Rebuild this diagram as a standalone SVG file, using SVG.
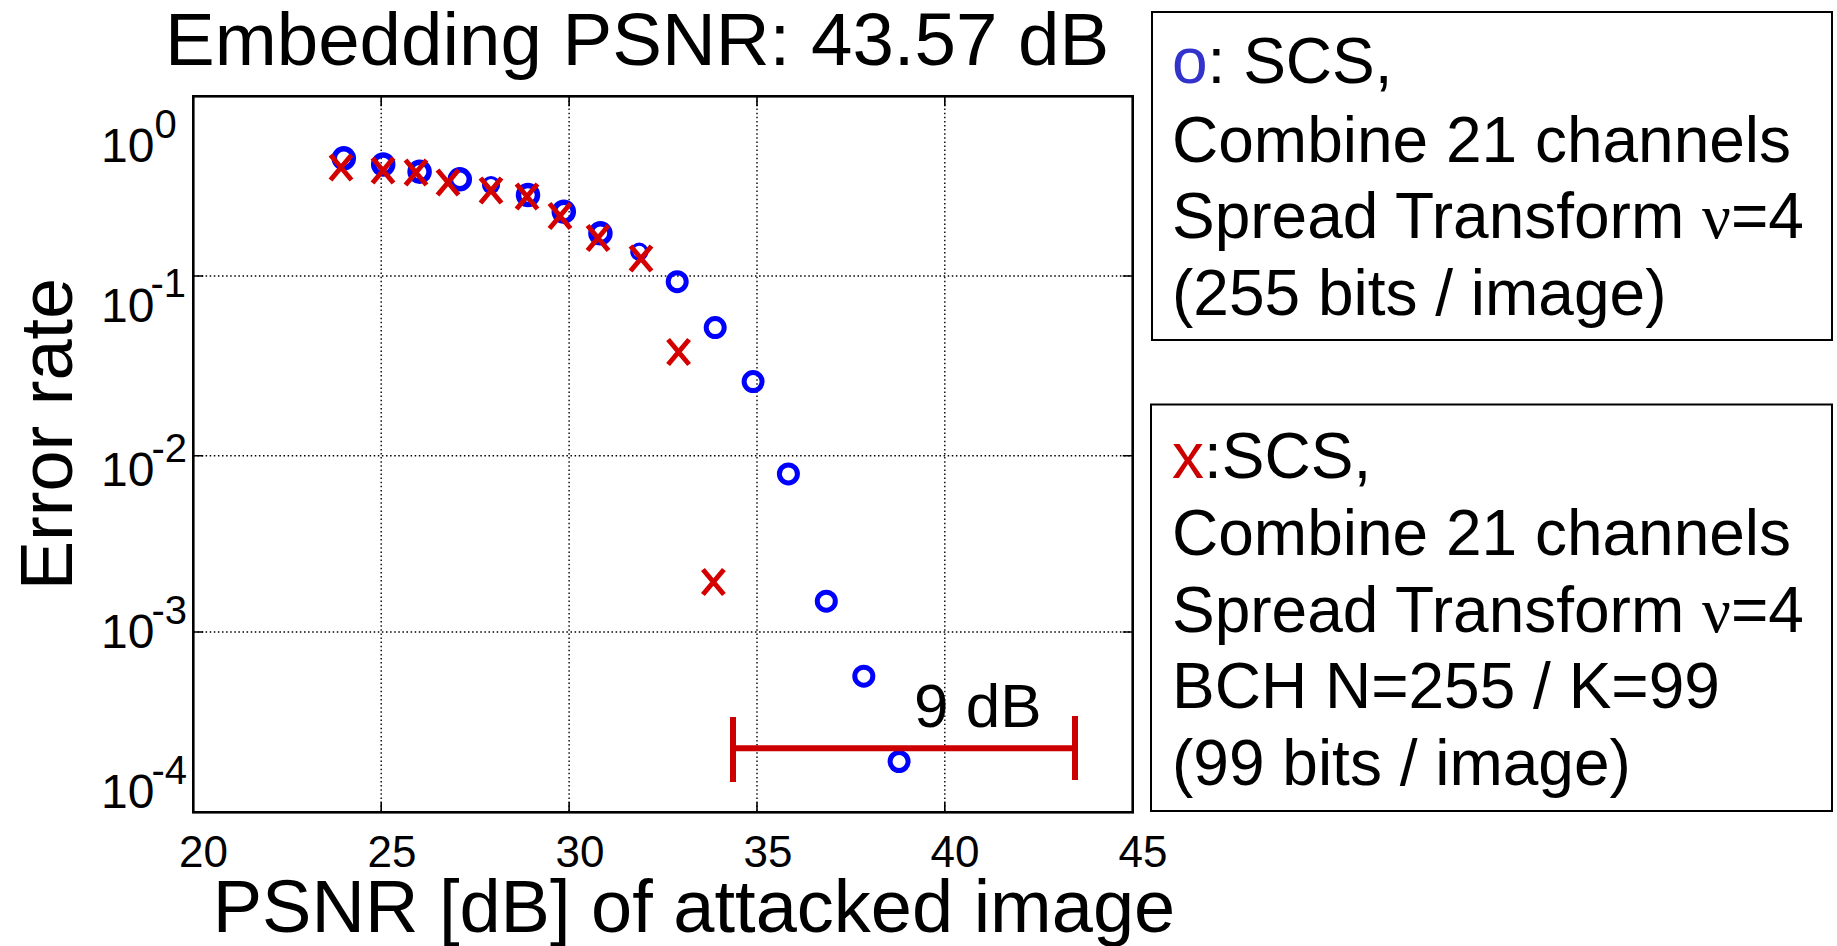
<svg xmlns="http://www.w3.org/2000/svg" width="1837" height="946" viewBox="0 0 1837 946">
<style>
  text { font-family: "Liberation Sans", Arial, sans-serif; fill: #000; }
  .grid { stroke: #000; stroke-width: 1.4; stroke-dasharray: 1.5 2.6; fill: none; }
  .tick { stroke: #000; stroke-width: 1.6; fill: none; }
  .axis { stroke: #000; stroke-width: 2.6; fill: none; }
  .ytl { font-size: 48px; }
  .sup { font-size: 40px; }
  .xtl { font-size: 44px; text-anchor: middle; }
  .lbl { font-size: 74px; }
  .leg { font-size: 64px; }
  .box { fill: #fff; stroke: #000; stroke-width: 2; }
  .o { fill: none; stroke: #0000ff; }
  .x { fill: none; stroke: #d40000; stroke-width: 5; }
  .bar { stroke: #cc0000; stroke-width: 6; fill: none; }
  .nu { font-family: "Liberation Serif", "Times New Roman", serif; }
</style>
<defs>
  <path id="xm" d="M-10.5,-12.5 L10.5,12.5 M10.5,-12.5 L-10.5,12.5"/>
</defs>
<rect width="1837" height="946" fill="#fff"/>

<text id="title" x="165" y="65" font-size="74.5">Embedding PSNR: 43.57 dB</text>

<g id="grid">
  <path class="grid" d="M381.2,96.3 V812.3 M569.1,96.3 V812.3 M757,96.3 V812.3 M944.8,96.3 V812.3"/>
  <path class="grid" d="M193.3,276 H1132.7 M193.3,455.7 H1132.7 M193.3,632 H1132.7"/>
</g>

<g id="ticks">
  <path class="tick" d="M193.3,276 h10 M193.3,455.7 h10 M193.3,632 h10 M1132.7,276 h-10 M1132.7,455.7 h-10 M1132.7,632 h-10"/>
  <path class="tick" d="M381.2,812.3 v-10 M569.1,812.3 v-10 M757,812.3 v-10 M944.8,812.3 v-10 M381.2,96.3 v10 M569.1,96.3 v10 M757,96.3 v10 M944.8,96.3 v10"/>
</g>

<g id="axes">
  <rect class="axis" x="193.3" y="96.3" width="939.4" height="716"/>
</g>

<g id="y-ticklabels">
  <text class="ytl" x="101" y="161.7">10<tspan class="sup" dy="-24">0</tspan></text>
  <text class="ytl" x="101" y="321.7">10<tspan class="sup" dy="-25" dx="-4">-1</tspan></text>
  <text class="ytl" x="101" y="486">10<tspan class="sup" dy="-24" dx="-3">-2</tspan></text>
  <text class="ytl" x="101" y="647.5">10<tspan class="sup" dy="-24" dx="-3">-3</tspan></text>
  <text class="ytl" x="101" y="807.5">10<tspan class="sup" dy="-24" dx="-3">-4</tspan></text>
</g>

<g id="x-ticklabels">
  <text class="xtl" x="203.5" y="867">20</text>
  <text class="xtl" x="392" y="867">25</text>
  <text class="xtl" x="580" y="867">30</text>
  <text class="xtl" x="768" y="867">35</text>
  <text class="xtl" x="955" y="867">40</text>
  <text class="xtl" x="1143" y="867">45</text>
</g>

<text id="ylabel" class="lbl" text-anchor="middle" transform="translate(72,434) rotate(-90)">Error rate</text>
<text id="xlabel" class="lbl" text-anchor="middle" x="694" y="932">PSNR [dB] of attacked image</text>

<g id="series-o">
  <circle class="o" stroke-width="5.5" r="9.5" cx="343.8" cy="158.3"/>
  <circle class="o" stroke-width="5.5" r="9.5" cx="383.2" cy="164.5"/>
  <circle class="o" stroke-width="5.5" r="9.5" cx="419.6" cy="171.7"/>
  <circle class="o" stroke-width="5.5" r="9.5" cx="459.8" cy="179.3"/>
  <circle class="o" stroke-width="3.2" r="7.5" cx="491" cy="185"/>
  <circle class="o" stroke-width="5.5" r="9.5" cx="528" cy="195"/>
  <circle class="o" stroke-width="5.5" r="9.5" cx="563.8" cy="211.7"/>
  <circle class="o" stroke-width="5.5" r="9.5" cx="600.4" cy="233.3"/>
  <circle class="o" stroke-width="3.2" r="7.5" cx="639.3" cy="251.7"/>
  <circle class="o" stroke-width="5" r="9" cx="677.2" cy="281.7"/>
  <circle class="o" stroke-width="5" r="9" cx="715.2" cy="327.6"/>
  <circle class="o" stroke-width="5" r="9" cx="753.1" cy="381.6"/>
  <circle class="o" stroke-width="5" r="9" cx="788.4" cy="473.9"/>
  <circle class="o" stroke-width="5" r="9" cx="826.3" cy="601.2"/>
  <circle class="o" stroke-width="5" r="9" cx="863.8" cy="676.2"/>
  <circle class="o" stroke-width="5" r="9" cx="899.1" cy="761.5"/>
</g>

<g id="series-x">
  <use href="#xm" class="x" x="341" y="167.5"/>
  <use href="#xm" class="x" x="383" y="170.5"/>
  <use href="#xm" class="x" x="416" y="172.5"/>
  <use href="#xm" class="x" x="448" y="182.5"/>
  <use href="#xm" class="x" x="491" y="190.5"/>
  <use href="#xm" class="x" x="527" y="196.5"/>
  <use href="#xm" class="x" x="560" y="216"/>
  <use href="#xm" class="x" x="598" y="238"/>
  <use href="#xm" class="x" x="641" y="258.5"/>
  <use href="#xm" class="x" x="678.6" y="352"/>
  <use href="#xm" class="x" x="713.4" y="582"/>
</g>

<g id="gap-annotation">
  <path class="bar" d="M733,748.3 H1075 M733,717 V782 M1075,716 V780"/>
  <text x="914" y="726.5" font-size="62">9 dB</text>
</g>

<g id="legend-o">
  <rect class="box" x="1152" y="12" width="680" height="328"/>
  <text class="leg" x="1172" y="83.3"><tspan fill="#3333cc">o</tspan>: SCS,</text>
  <text class="leg" x="1172" y="161.7">Combine 21 channels</text>
  <text class="leg" x="1172" y="238.3">Spread Transform <tspan class="nu">ν</tspan>=4</text>
  <text class="leg" x="1172" y="315">(255 bits / image)</text>
</g>

<g id="legend-x">
  <rect class="box" x="1151" y="404.5" width="681" height="406.5"/>
  <text class="leg" x="1172" y="478.3"><tspan fill="#cc0000">x</tspan>:SCS,</text>
  <text class="leg" x="1172" y="555">Combine 21 channels</text>
  <text class="leg" x="1172" y="631.7">Spread Transform <tspan class="nu">ν</tspan>=4</text>
  <text class="leg" x="1172" y="708.3">BCH N=255 / K=99</text>
  <text class="leg" x="1172" y="785">(99 bits / image)</text>
</g>
</svg>
